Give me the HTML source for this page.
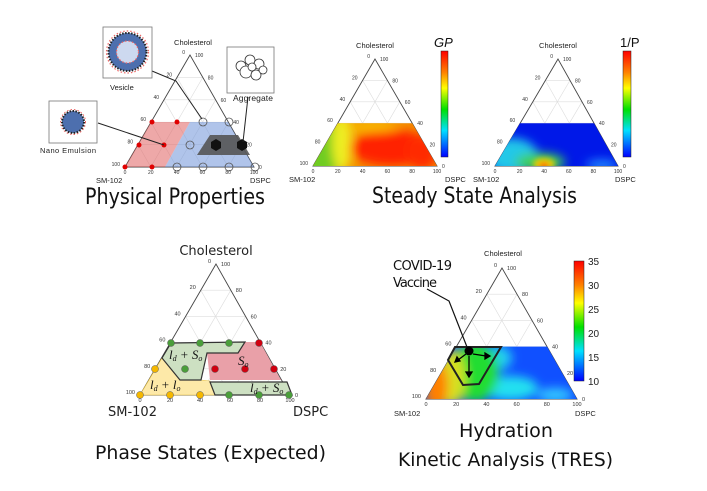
<!DOCTYPE html>
<html><head><meta charset="utf-8"><style>
html,body{margin:0;padding:0;background:#fff;}
svg{display:block;font-family:"Liberation Sans",sans-serif;}
</style></head><body>
<svg id="s" width="707" height="491" viewBox="0 0 707 491" xmlns="http://www.w3.org/2000/svg">
<defs>
<filter id="b4" x="-50%" y="-50%" width="200%" height="200%"><feGaussianBlur stdDeviation="5"/></filter>
<filter id="b2" x="-50%" y="-50%" width="200%" height="200%"><feGaussianBlur stdDeviation="3"/></filter>
<linearGradient id="cb" x1="0" y1="0" x2="0" y2="1">
<stop offset="0" stop-color="#ff0000"/><stop offset="0.2" stop-color="#ff8000"/><stop offset="0.35" stop-color="#ffff00"/><stop offset="0.55" stop-color="#00e000"/><stop offset="0.75" stop-color="#00e0ff"/><stop offset="1" stop-color="#0000ff"/>
</linearGradient>
<clipPath id="c2"><polygon points="313,166 337.8,123.2 412.2,123.2 437,166"/></clipPath>
<clipPath id="c3"><polygon points="495,166 520,123.2 594,123.2 618,166"/></clipPath>
<clipPath id="c5"><polygon points="426,399 456.4,346.6 547,346.6 577,399"/></clipPath>
</defs>

<g id="g1"></g><g id="g2"></g><g id="g3"></g><g id="g4"></g><g id="g5"></g>

<!-- Panel 1 regions -->
<polygon points="125,167 151,122 190,122 165,167" fill="#e06060" opacity="0.55"/>
<polygon points="165,167 190,122 228,122 254,167" fill="#6f93d8" opacity="0.55"/>
<polygon points="210,135 238,135 250,155 197,155" fill="#555" opacity="0.9"/>
<g fill="#e00000">
<circle cx="152" cy="122" r="2.5"/><circle cx="177" cy="122" r="2.5"/><circle cx="139" cy="145" r="2.5"/><circle cx="164" cy="145" r="2.5"/><circle cx="125" cy="167" r="2.5"/><circle cx="152" cy="167" r="2.5"/>
</g>
<g fill="none" stroke="#555" stroke-width="0.8">
<circle cx="203" cy="122" r="4"/><circle cx="229" cy="122" r="4"/><circle cx="190" cy="145" r="4"/><circle cx="177" cy="167" r="4"/><circle cx="203" cy="167" r="4"/><circle cx="229" cy="167" r="4"/><circle cx="255" cy="167" r="4"/>
</g>
<polygon points="216,139 221,142 221,148 216,151 211,148 211,142" fill="#111"/>
<polygon points="242,139 247,142 247,148 242,151 237,148 237,142" fill="#111"/>
<g fill="none" stroke="#222" stroke-width="1">
<polyline points="152,71 176,81 202,119"/>
<line x1="98" y1="123" x2="164" y2="145"/>
<line x1="248" y1="97" x2="243" y2="142"/>
</g>
<rect x="103" y="27" width="49" height="51" fill="#fff" stroke="#777" stroke-width="0.8"/>
<circle cx="127.5" cy="52" r="19" fill="#4d6fae" stroke="#222" stroke-width="2" stroke-dasharray="1.5 1.5"/>
<circle cx="127.5" cy="52" r="21" fill="none" stroke="#e66" stroke-width="1.2" stroke-dasharray="1.5 2"/>
<circle cx="127.5" cy="52" r="11" fill="#cdd9ef" stroke="#e66" stroke-width="1.2" stroke-dasharray="1.5 2"/>
<rect x="49" y="101" width="48" height="42" fill="#fff" stroke="#777" stroke-width="0.8"/>
<circle cx="73" cy="122" r="11" fill="#4d6fae" stroke="#222" stroke-width="2" stroke-dasharray="1.5 1.5"/>
<circle cx="73" cy="122" r="12.5" fill="none" stroke="#e66" stroke-width="1" stroke-dasharray="1.5 2"/>
<rect x="227" y="47" width="47" height="46" fill="#fff" stroke="#777" stroke-width="0.8"/>
<g fill="#fff" stroke="#333" stroke-width="0.8">
<circle cx="241" cy="66" r="5"/><circle cx="250" cy="60" r="5"/><circle cx="259" cy="64" r="5"/><circle cx="246" cy="72" r="6"/><circle cx="256" cy="75" r="5"/><circle cx="263" cy="70" r="4"/><circle cx="252" cy="67" r="4"/>
</g>
<g font-size="7.5" fill="#222">
<text x="110" y="90">Vesicle</text>
<text x="40" y="153" textLength="56">Nano Emulsion</text>
<text x="233" y="101" font-size="8.5" textLength="40">Aggregate</text>
</g>

<!-- Panel 2 heatmap -->
<g clip-path="url(#c2)">
<rect x="300" y="115" width="150" height="60" fill="#f49000"/>
<g filter="url(#b4)">
<ellipse cx="318" cy="155" rx="20" ry="40" fill="#70cc20"/>
<ellipse cx="342" cy="142" rx="10" ry="30" fill="#eeee20"/>
<ellipse cx="392" cy="148" rx="42" ry="18" fill="#ff2000"/>
<ellipse cx="422" cy="152" rx="16" ry="18" fill="#ff2a00"/>
<ellipse cx="372" cy="127" rx="26" ry="5" fill="#f8c000"/>
</g>
</g>
<rect x="441" y="51" width="7" height="106" fill="url(#cb)" stroke="#222" stroke-width="0.5"/>
<text x="434" y="47" font-size="13" font-style="italic" fill="#111">GP</text>

<!-- Panel 3 heatmap -->
<g clip-path="url(#c3)">
<rect x="490" y="115" width="135" height="60" fill="#0018e8"/>
<g filter="url(#b4)">
<ellipse cx="512" cy="156" rx="26" ry="18" fill="#20c8e8"/>
<ellipse cx="540" cy="162" rx="25" ry="9" fill="#40d050"/>
<ellipse cx="602" cy="165" rx="16" ry="5" fill="#2090ff"/>
</g>
<g filter="url(#b2)">
<ellipse cx="544" cy="164" rx="11" ry="6" fill="#f0d000"/>
<ellipse cx="544" cy="166" rx="5" ry="3" fill="#ff2000"/>
</g>
</g>
<rect x="623" y="51" width="8" height="106" fill="url(#cb)" stroke="#222" stroke-width="0.5"/>
<text x="620" y="47" font-size="13" fill="#111">1/P</text>

<!-- Panel 4 regions -->
<polygon points="162,358 180,380 201,380 210,381 215,395 140,395" fill="#fde9a8" stroke="#e6c040" stroke-width="0.6"/>
<polygon points="245,342 260,342 281,380 210,380 207,353 238,353" fill="#e9a0a8"/>
<polygon points="171,343 245,342 238,353 207,353 201,380 180,380 162,358" fill="#cde0c2" stroke="#333" stroke-width="1.2"/>
<polygon points="210,382 287,382 292,395 215,395" fill="#cde0c2" stroke="#333" stroke-width="1.2"/>
<g stroke="#555" stroke-width="0.5">
<g fill="#4a9e3a"><circle cx="171" cy="343" r="3.5"/><circle cx="200" cy="343" r="3.5"/><circle cx="229" cy="343" r="3.5"/><circle cx="185" cy="369" r="3.5"/><circle cx="229" cy="395" r="3.5"/><circle cx="259" cy="395" r="3.5"/><circle cx="289" cy="395" r="3.5"/></g>
<g fill="#d00010"><circle cx="259" cy="343" r="3.5"/><circle cx="215" cy="369" r="3.5"/><circle cx="245" cy="369" r="3.5"/><circle cx="274" cy="369" r="3.5"/></g>
<g fill="#f5b800"><circle cx="155" cy="369" r="3.5"/><circle cx="140" cy="395" r="3.5"/><circle cx="170" cy="395" r="3.5"/><circle cx="200" cy="395" r="3.5"/></g>
</g>
<g font-family="Liberation Serif,serif" font-style="italic" font-size="13" fill="#111">
<text x="169" y="359">l<tspan font-size="8" dy="2">d</tspan><tspan dy="-2"> + S</tspan><tspan font-size="8" dy="2">o</tspan></text>
<text x="238" y="365">S<tspan font-size="8" dy="2">o</tspan></text>
<text x="150" y="389">l<tspan font-size="8" dy="2">d</tspan><tspan dy="-2"> + l</tspan><tspan font-size="8" dy="2">o</tspan></text>
<text x="250" y="392">l<tspan font-size="8" dy="2">d</tspan><tspan dy="-2"> + S</tspan><tspan font-size="8" dy="2">o</tspan></text>
</g>

<!-- Panel 5 heatmap -->
<g clip-path="url(#c5)">
<rect x="420" y="340" width="165" height="65" fill="#1050ff"/>
<g filter="url(#b4)">
<ellipse cx="510" cy="388" rx="28" ry="12" fill="#20e0f0"/>
<ellipse cx="555" cy="395" rx="18" ry="7" fill="#30c8ff"/>
<ellipse cx="498" cy="358" rx="14" ry="12" fill="#20d0f0"/>
<ellipse cx="475" cy="372" rx="24" ry="30" fill="#20dd30"/>
<ellipse cx="452" cy="378" rx="13" ry="28" fill="#d8e020"/>
<ellipse cx="436" cy="386" rx="12" ry="25" fill="#ff8000"/>
</g>
</g>
<rect x="574" y="261" width="10" height="120" fill="url(#cb)" stroke="#222" stroke-width="0.5"/>
<g font-size="10" fill="#222">
<text x="588" y="265">35</text><text x="588" y="289">30</text><text x="588" y="313">25</text><text x="588" y="337">20</text><text x="588" y="361">15</text><text x="588" y="385">10</text>
</g>
<polygon points="455,347 501,347 479,384 463,385 448,360" fill="none" stroke="#222" stroke-width="2"/>
<polyline points="427,289 449,301 467,347" fill="none" stroke="#111" stroke-width="1.2"/>
<circle cx="469" cy="351" r="4.5" fill="#000"/>
<g stroke="#000" stroke-width="1.3" fill="#000">
<line x1="466" y1="354" x2="458" y2="360"/><polygon points="455,362 457,357 460,361"/>
<line x1="473" y1="354" x2="486" y2="356"/><polygon points="490,356 485,353 485,359"/>
<line x1="469" y1="356" x2="469" y2="373"/><polygon points="469,377 466,372 472,372"/>
</g>
<g font-size="13" fill="#111" font-family="DejaVu Sans,sans-serif">
<text x="393" y="270" textLength="59">COVID-19</text>
<text x="393" y="287" textLength="44">Vaccine</text>
</g>

<!-- axis names -->
<g font-size="7.5" fill="#222">
<text x="193" y="45" text-anchor="middle">Cholesterol</text>
<text x="96" y="183">SM-102</text><text x="250" y="183">DSPC</text>
<text x="375" y="48" text-anchor="middle">Cholesterol</text>
<text x="289" y="182">SM-102</text><text x="445" y="182">DSPC</text>
<text x="558" y="48" text-anchor="middle">Cholesterol</text>
<text x="473" y="182">SM-102</text><text x="615" y="182">DSPC</text>
<text x="503" y="256" text-anchor="middle">Cholesterol</text>
<text x="394" y="416">SM-102</text><text x="575" y="416">DSPC</text>
</g>
<g font-size="13" fill="#222" font-family="DejaVu Sans,sans-serif">
<text x="216" y="255" text-anchor="middle">Cholesterol</text>
<text x="108" y="416">SM-102</text><text x="293" y="416">DSPC</text>
</g>

<!-- titles -->
<g font-size="22" fill="#111" font-family="DejaVu Sans,sans-serif">
<text x="85" y="204" textLength="180" lengthAdjust="spacingAndGlyphs">Physical Properties</text>
<text x="372" y="203" textLength="205" lengthAdjust="spacingAndGlyphs">Steady State Analysis</text>
<text x="95" y="459" font-size="19" textLength="231" lengthAdjust="spacingAndGlyphs">Phase States (Expected)</text>
<text x="459" y="437" font-size="19" textLength="94" lengthAdjust="spacingAndGlyphs">Hydration</text>
<text x="398" y="466" font-size="19" textLength="215" lengthAdjust="spacingAndGlyphs">Kinetic Analysis (TRES)</text>
</g>
</svg>
<script>
(function(){
var NS="http://www.w3.org/2000/svg";
function el(p,n,a){var e=document.createElementNS(NS,n);for(var k in a)e.setAttribute(k,a[k]);p.appendChild(e);return e;}
function P(A,L,R,c,d){var s=1-c-d;return [s*L[0]+d*R[0]+c*A[0], s*L[1]+d*R[1]+c*A[1]];}
function tri(id,A,L,R,fs){
 var g=document.getElementById(id);
 for(var i=1;i<5;i++){var k=i/5;
  var a=P(A,L,R,k,0),b=P(A,L,R,k,1-k); el(g,"line",{x1:a[0],y1:a[1],x2:b[0],y2:b[1],stroke:"#ddd","stroke-width":0.6});
  a=P(A,L,R,0,k);b=P(A,L,R,1-k,k); el(g,"line",{x1:a[0],y1:a[1],x2:b[0],y2:b[1],stroke:"#ddd","stroke-width":0.6});
  a=P(A,L,R,0,1-k);b=P(A,L,R,1-k,0); el(g,"line",{x1:a[0],y1:a[1],x2:b[0],y2:b[1],stroke:"#ddd","stroke-width":0.6});
 }
 el(g,"polygon",{points:A+" "+L+" "+R,fill:"none",stroke:"#444","stroke-width":0.9});
 for(var i=0;i<=5;i++){var v=i*20;
  var p=P(A,L,R,0,i/5); var t=el(g,"text",{x:p[0],y:p[1]+7,"font-size":fs,"text-anchor":"middle",fill:"#333"});t.textContent=v;
  p=P(A,L,R,1-i/5,0); t=el(g,"text",{x:p[0]-5,y:p[1]-1,"font-size":fs,"text-anchor":"end",fill:"#333"});t.textContent=v;
  p=P(A,L,R,1-i/5,i/5); t=el(g,"text",{x:p[0]+5,y:p[1]+2,"font-size":fs,fill:"#333"});t.textContent=100-v;
 }
}
tri("g1",[190,55],[125,167],[254,167],5);
tri("g2",[375,59],[313,166],[437,166],5);
tri("g3",[558,59],[495,166],[618,166],5);
tri("g4",[216,264],[140,395],[290,395],5.5);
tri("g5",[502,268],[426,399],[577,399],5.5);
})();
</script>
</body></html>
